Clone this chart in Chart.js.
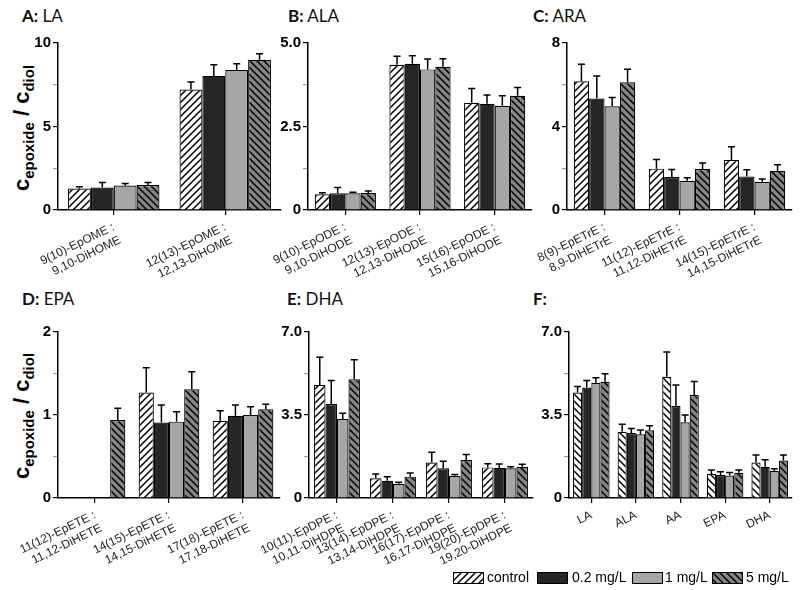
<!DOCTYPE html>
<html>
<head>
<meta charset="utf-8">
<script src="https://cdn.jsdelivr.net/npm/chart.js@4.4.1/dist/chart.umd.min.js"></script>
<style>
  body { margin: 0; background: #fff; width: 800px; height: 590px; position: relative; overflow: hidden; font-family: 'Liberation Sans', Arial, sans-serif; }
  canvas { position: absolute; }
  .ttl { position: absolute; font: 17px Lato, sans-serif; color: #111; white-space: nowrap; }
  .ttl b { font-weight: 700; }
  .ylab { position: absolute; transform: translate(-50%, -50%) rotate(-90deg); font: bold 22px 'Liberation Sans', Arial, sans-serif; white-space: nowrap; color: #000; }
  .ylab sub { font-size: 15px; vertical-align: -5px; }
  .leg-sw { position: absolute; top: 572px; border: 1px solid #000; }
  .leg-tx { position: absolute; top: 569px; font-size: 14px; color: #000; white-space: nowrap; }
</style>
</head>
<body>
<div class="ttl" style="left:22px;top:5px"><b>A:</b> LA</div>
<div class="ttl" style="left:288px;top:5px"><b>B:</b> ALA</div>
<div class="ttl" style="left:533px;top:5px"><b>C:</b> ARA</div>
<div class="ttl" style="left:22px;top:288px"><b>D:</b> EPA</div>
<div class="ttl" style="left:287px;top:288px"><b>E:</b> DHA</div>
<div class="ttl" style="left:533px;top:288px"><b>F:</b></div>
<div class="ylab" style="left:23px;top:128px">c<sub>epoxide</sub> / c<sub>diol</sub></div>
<div class="ylab" style="left:23px;top:416px">c<sub>epoxide</sub> / c<sub>diol</sub></div>
<script>
const seriesNames = ['control', '0.2 mg/L', '1 mg/L', '5 mg/L'];

// A: LA
const catsA = [['9(10)-EpOME :', '9,10-DiHOME'], ['12(13)-EpOME :', '12,13-DiHOME']];
const meanA = [[1.29, 7.21], [1.35, 8.03], [1.47, 8.39], [1.49, 9.00]];
const errA = [[0.10, 0.46], [0.30, 0.67], [0.12, 0.37], [0.16, 0.36]];
const tickValsA = [0, 5, 10];
const tickLabsA = ['0', '5', '10'];

// B: ALA
const catsB = [['9(10)-EpODE :', '9,10-DiHODE'], ['12(13)-EpODE :', '12,13-DiHODE'], ['15(16)-EpODE :', '15,16-DiHODE']];
const meanB = [[0.47, 4.35, 3.21], [0.50, 4.38, 3.18], [0.50, 4.21, 3.12], [0.51, 4.29, 3.42]];
const errB = [[0.05, 0.25, 0.43], [0.17, 0.24, 0.26], [0.03, 0.31, 0.30], [0.06, 0.24, 0.25]];
const tickValsB = [0, 2.5, 5];
const tickLabsB = ['0', '2.5', '5.0'];

// C: ARA
const catsC = [['8(9)-EpETrE :', '8,9-DiHETrE'], ['11(12)-EpETrE :', '11,12-DiHETrE'], ['14(15)-EpETrE :', '14,15-DiHETrE']];
const meanC = [[6.17, 1.98, 2.39], [5.34, 1.58, 1.61], [4.97, 1.40, 1.35], [6.12, 1.96, 1.88]];
const errC = [[0.81, 0.44, 0.64], [1.08, 0.36, 0.32], [0.42, 0.15, 0.13], [0.62, 0.29, 0.29]];
const tickValsC = [0, 4, 8];
const tickLabsC = ['0', '4', '8'];

// D: EPA
const catsD = [['11(12)-EpETE :', '11,12-DiHETE'], ['14(15)-EpETE :', '14,15-DiHETE'], ['17(18)-EpETE :', '17,18-DiHETE']];
const meanD = [[null, 1.27, 0.93], [null, 0.91, 0.99], [null, 0.92, 1.00], [0.94, 1.31, 1.07]];
const errD = [[null, 0.30, 0.12], [null, 0.21, 0.13], [null, 0.12, 0.10], [0.14, 0.21, 0.06]];
const tickValsD = [0, 1, 2];
const tickLabsD = ['0', '1', '2'];

// E: DHA
const catsE = [['10(11)-EpDPE :', '10,11-DiHDPE'], ['13(14)-EpDPE :', '13,14-DiHDPE'], ['16(17)-EpDPE :', '16,17-DiHDPE'], ['19(20)-EpDPE :', '19,20-DiHDPE']];
const meanE = [[4.77, 0.83, 1.50, 1.29], [3.96, 0.73, 1.25, 1.27], [3.33, 0.60, 0.94, 1.25], [5.01, 0.90, 1.60, 1.32]];
const errE = [[1.16, 0.18, 0.43, 0.15], [1.00, 0.17, 0.30, 0.16], [0.24, 0.06, 0.05, 0.07], [0.82, 0.15, 0.23, 0.10]];
const tickValsE = [0, 3.5, 7];
const tickLabsE = ['0', '3.5', '7.0'];

// F: all
const catsF = ['LA', 'ALA', 'AA', 'EPA', 'DHA'];
const meanF = [[4.45, 2.79, 5.11, 1.01, 1.50], [4.66, 2.74, 3.88, 0.97, 1.32], [4.86, 2.69, 3.19, 0.95, 1.15], [4.90, 2.86, 4.34, 1.06, 1.58]];
const errF = [[0.25, 0.32, 1.05, 0.17, 0.31], [0.30, 0.19, 0.88, 0.14, 0.29], [0.21, 0.18, 0.31, 0.13, 0.08], [0.34, 0.19, 0.57, 0.12, 0.23]];
const tickValsF = [0, 3.5, 7];
const tickLabsF = ['0', '3.5', '7.0'];

Chart.defaults.font.family = "'Liberation Sans', Arial, sans-serif";

function hatch(bg, dir) {
    const c = document.createElement('canvas');
    c.width = c.height = 7;
    const g = c.getContext('2d');
    g.fillStyle = bg;
    g.fillRect(0, 0, 7, 7);
    g.strokeStyle = '#000';
    g.lineWidth = 1.5;
    g.beginPath();
    if (dir > 0) {
        g.moveTo(-1, 8); g.lineTo(8, -1);
        g.moveTo(-1, 1); g.lineTo(1, -1);
        g.moveTo(6, 8); g.lineTo(8, 6);
    } else {
        g.moveTo(-1, -1); g.lineTo(8, 8);
        g.moveTo(-1, 6); g.lineTo(1, 8);
        g.moveTo(6, -1); g.lineTo(8, 1);
    }
    g.stroke();
    return g.createPattern(c, 'repeat');
}

const fillsNormal = [hatch('#fff', 1), '#262626', '#a6a6a6', hatch('#858585', -1)];
const fillsF = [hatch('#fff', -1), '#262626', '#a6a6a6', hatch('#858585', -1)];

// error bars drawn upward from each bar top
const errorBars = {
    id: 'errorBars',
    afterDatasetsDraw(chart) {
        const ctx = chart.ctx;
        const y = chart.scales.y;
        ctx.save();
        ctx.strokeStyle = '#000';
        ctx.lineWidth = 1.5;
        chart.data.datasets.forEach((ds, i) => {
            chart.getDatasetMeta(i).data.forEach((bar, j) => {
                const v = ds.data[j], e = ds.errors[j];
                if (v == null || e == null) return;
                const top = y.getPixelForValue(v + e);
                ctx.beginPath();
                ctx.moveTo(bar.x, bar.y);
                ctx.lineTo(bar.x, top);
                ctx.moveTo(bar.x - 3.5, top);
                ctx.lineTo(bar.x + 3.5, top);
                ctx.stroke();
            });
        });
        ctx.restore();
    }
};

function panel(box, cats, means, errs, tickVals, tickLabs, fills) {
    const cv = document.createElement('canvas');
    cv.width = box.w + 66;
    cv.height = box.h + 10 + 70;
    cv.style.left = (box.l - 60) + 'px';
    cv.style.top = (box.t - 10) + 'px';
    document.body.appendChild(cv);
    const isMajor = v => tickVals.some(t => Math.abs(t - v) < 1e-6);
    new Chart(cv.getContext('2d'), {
        type: 'bar',
        data: {
            labels: cats,
            datasets: seriesNames.map((name, i) => ({
                label: name,
                data: means[i],
                errors: errs[i],
                backgroundColor: fills[i],
                borderColor: '#000',
                borderWidth: 1.2,
                barPercentage: 1,
                categoryPercentage: 0.82
            }))
        },
        options: {
            responsive: false,
            animation: false,
            layout: { padding: { left: 20, top: 10, right: 6, bottom: 0 } },
            plugins: { legend: { display: false }, tooltip: { enabled: false } },
            scales: {
                x: {
                    grid: { offset: false, drawOnChartArea: false, tickLength: 5, color: '#000', lineWidth: 1.2 },
                    border: { color: '#000', width: 1.5 },
                    ticks: { minRotation: 26, maxRotation: 26, autoSkip: false, color: '#222', font: { size: 12 }, padding: 5 },
                    afterFit: s => { s.height = 70; s.paddingLeft = 0; s.paddingRight = 0; }
                },
                y: {
                    min: 0,
                    max: tickVals[tickVals.length - 1],
                    grid: {
                        drawOnChartArea: false, tickLength: 5, lineWidth: 1.2,
                        tickColor: c => (c.tick && isMajor(c.tick.value)) ? '#000' : '#999'
                    },
                    border: { color: '#000', width: 1.5 },
                    ticks: {
                        stepSize: tickVals[1] / 2,
                        color: '#000',
                        font: { size: 15, weight: 'bold' },
                        padding: 2,
                        callback: v => {
                            const k = tickVals.findIndex(t => Math.abs(t - v) < 1e-6);
                            return k >= 0 ? tickLabs[k] : '';
                        }
                    },
                    afterFit: s => { s.width = 40; s.paddingTop = 0; s.paddingBottom = 0; }
                }
            }
        },
        plugins: [errorBars]
    });
}

panel({ l: 58, t: 43, w: 223, h: 167 }, catsA, meanA, errA, tickValsA, tickLabsA, fillsNormal);
panel({ l: 308, t: 43, w: 224, h: 167 }, catsB, meanB, errB, tickValsB, tickLabsB, fillsNormal);
panel({ l: 567, t: 43, w: 225, h: 167 }, catsC, meanC, errC, tickValsC, tickLabsC, fillsNormal);
panel({ l: 58, t: 332, w: 222, h: 166 }, catsD, meanD, errD, tickValsD, tickLabsD, fillsNormal);
panel({ l: 309, t: 332, w: 224, h: 166 }, catsE, meanE, errE, tickValsE, tickLabsE, fillsNormal);
panel({ l: 569, t: 332, w: 223, h: 166 }, catsF, meanF, errF, tickValsF, tickLabsF, fillsF);

const swatchX = [453, 537, 632, 712];
const textX = [487, 572, 665, 746];
seriesNames.forEach((name, i) => {
    const sw = document.createElement('canvas');
    sw.className = 'leg-sw';
    sw.width = 29;
    sw.height = 10;
    sw.style.left = swatchX[i] + 'px';
    const g = sw.getContext('2d');
    g.fillStyle = fillsNormal[i];
    g.fillRect(0, 0, 29, 10);
    document.body.appendChild(sw);
    const t = document.createElement('div');
    t.className = 'leg-tx';
    t.style.left = textX[i] + 'px';
    t.textContent = name;
    document.body.appendChild(t);
});
</script>
</body>
</html>
